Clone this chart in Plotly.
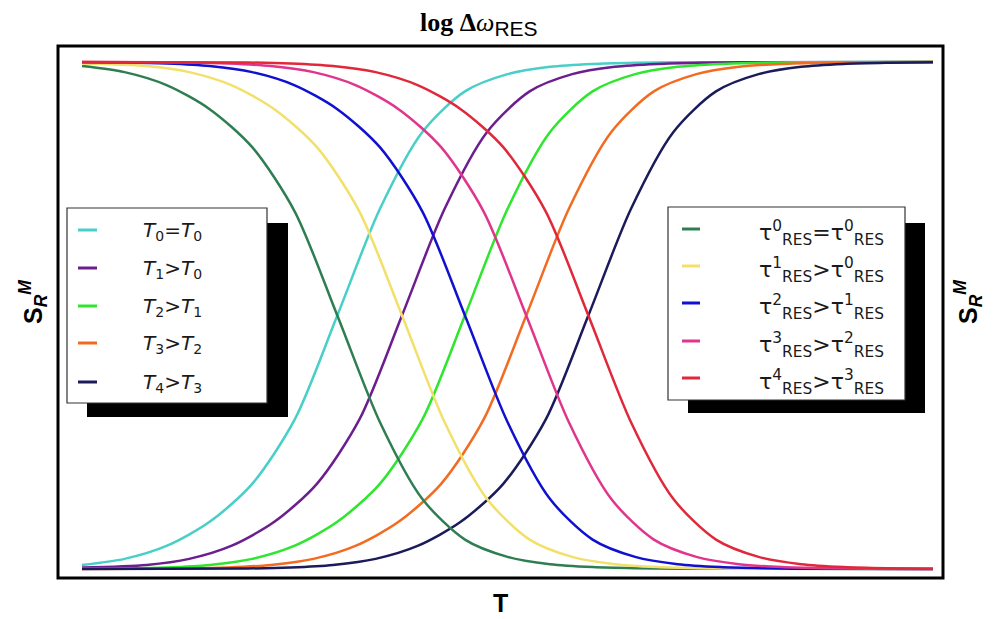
import plotly.graph_objects as go

# ---- data: S_R^M against T for the two families of curves ----
# rising curves (T family)
t_names = ["<i>T</i><sub>0</sub>=<i>T</i><sub>0</sub>",
           "<i>T</i><sub>1</sub>><i>T</i><sub>0</sub>",
           "<i>T</i><sub>2</sub>><i>T</i><sub>1</sub>",
           "<i>T</i><sub>3</sub>><i>T</i><sub>2</sub>",
           "<i>T</i><sub>4</sub>><i>T</i><sub>3</sub>"]
t_colors = ["#48CFC8", "#6B1F8F", "#2EE62E", "#F26B21", "#1B1B5C"]

cyan_x = [0, 0.5, 1.0, 1.5, 2.0, 2.5, 3.0, 3.5, 4.0, 4.5, 5.0, 5.5, 6.0, 6.5, 7.0, 10]
cyan_y = [0.008, 0.020, 0.046, 0.093, 0.168, 0.295, 0.5, 0.71, 0.862, 0.942, 0.976,
          0.9905, 0.9963, 0.9986, 0.9995, 1.0]
purple_x = [0, 0.76, 1.26, 1.76, 2.26, 2.76, 3.26, 3.76, 4.26, 4.76, 5.26, 5.76, 6.26,
            6.76, 7.26, 7.76, 10]
purple_y = [0.003, 0.008, 0.020, 0.046, 0.093, 0.168, 0.295, 0.5, 0.71, 0.862, 0.942,
            0.976, 0.9905, 0.9963, 0.9986, 0.9995, 1.0]
green_x = [0, 0.5, 1.0, 1.5, 2.0, 2.5, 3.0, 3.5, 4.0, 4.5, 5.0, 5.5, 6.0, 6.5, 7.0,
           7.5, 8.0, 8.5, 10]
green_y = [0.0005, 0.001, 0.003, 0.008, 0.020, 0.046, 0.093, 0.168, 0.295, 0.5, 0.71,
           0.862, 0.942, 0.976, 0.9905, 0.9963, 0.9986, 0.9995, 1.0]
orange_x = [0, 1.22, 1.72, 2.22, 2.72, 3.22, 3.72, 4.22, 4.72, 5.22, 5.72, 6.22, 6.72,
            7.22, 7.72, 8.22, 8.72, 9.22, 10]
orange_y = [0.0, 0.001, 0.003, 0.008, 0.020, 0.046, 0.093, 0.168, 0.295, 0.5, 0.71,
            0.862, 0.942, 0.976, 0.9905, 0.9963, 0.9986, 0.9995, 1.0]
navy_x = [0, 1.95, 2.45, 2.95, 3.45, 3.95, 4.45, 4.95, 5.45, 5.95, 6.45, 6.95, 7.45,
          7.95, 8.45, 8.95, 9.45, 10]
navy_y = [0.0, 0.001, 0.003, 0.008, 0.020, 0.046, 0.093, 0.168, 0.295, 0.5, 0.71,
          0.862, 0.942, 0.976, 0.9905, 0.9963, 0.9986, 0.9995]

# falling curves (tau_RES family)
tau_names = ["τ<sup>0</sup><sub>RES</sub>=τ<sup>0</sup><sub>RES</sub>",
             "τ<sup>1</sup><sub>RES</sub>>τ<sup>0</sup><sub>RES</sub>",
             "τ<sup>2</sup><sub>RES</sub>>τ<sup>1</sup><sub>RES</sub>",
             "τ<sup>3</sup><sub>RES</sub>>τ<sup>2</sup><sub>RES</sub>",
             "τ<sup>4</sup><sub>RES</sub>>τ<sup>3</sup><sub>RES</sub>"]
tau_colors = ["#2F7E52", "#F2E06A", "#1010D0", "#E0358C", "#E0283A"]

dkgreen_x = [0, 0.5, 1.0, 1.5, 2.0, 2.5, 3.0, 3.5, 4.0, 4.5, 5.0, 5.5, 6.0, 6.5, 7.0, 10]
dkgreen_y = [0.992, 0.980, 0.954, 0.907, 0.832, 0.705, 0.5, 0.29, 0.138, 0.058, 0.024,
             0.0095, 0.0037, 0.0014, 0.0005, 0.0]
yellow_x = [0, 0.76, 1.26, 1.76, 2.26, 2.76, 3.26, 3.76, 4.26, 4.76, 5.26, 5.76, 6.26,
            6.76, 7.26, 7.76, 10]
yellow_y = [0.997, 0.992, 0.980, 0.954, 0.907, 0.832, 0.705, 0.5, 0.29, 0.138, 0.058,
            0.024, 0.0095, 0.0037, 0.0014, 0.0005, 0.0]
blue_x = [0, 0.5, 1.0, 1.5, 2.0, 2.5, 3.0, 3.5, 4.0, 4.5, 5.0, 5.5, 6.0, 6.5, 7.0,
          7.5, 8.0, 8.5, 10]
blue_y = [0.9995, 0.999, 0.997, 0.992, 0.980, 0.954, 0.907, 0.832, 0.705, 0.5, 0.29,
          0.138, 0.058, 0.024, 0.0095, 0.0037, 0.0014, 0.0005, 0.0]
pink_x = [0, 1.22, 1.72, 2.22, 2.72, 3.22, 3.72, 4.22, 4.72, 5.22, 5.72, 6.22, 6.72,
          7.22, 7.72, 8.22, 8.72, 9.22, 10]
pink_y = [1.0, 0.999, 0.997, 0.992, 0.980, 0.954, 0.907, 0.832, 0.705, 0.5, 0.29,
          0.138, 0.058, 0.024, 0.0095, 0.0037, 0.0014, 0.0005, 0.0]
red_x = [0, 1.95, 2.45, 2.95, 3.45, 3.95, 4.45, 4.95, 5.45, 5.95, 6.45, 6.95, 7.45,
         7.95, 8.45, 8.95, 9.45, 10]
red_y = [1.0, 0.999, 0.997, 0.992, 0.980, 0.954, 0.907, 0.832, 0.705, 0.5, 0.29,
         0.138, 0.058, 0.024, 0.0095, 0.0037, 0.0014, 0.0005]

t_series = [(cyan_x, cyan_y), (purple_x, purple_y), (green_x, green_y),
            (orange_x, orange_y), (navy_x, navy_y)]
tau_series = [(dkgreen_x, dkgreen_y), (yellow_x, yellow_y), (blue_x, blue_y),
              (pink_x, pink_y), (red_x, red_y)]

# ---- figure geometry (pixels) ----
W, H = 996, 619
PL, PR, PT, PB = 58, 943, 46, 578


def fx(x):
    return (x - PL) / (PR - PL)


def fy(y):
    return (PB - y) / (PB - PT)


fig = go.Figure()
for (xs, ys), nm, col in zip(t_series, t_names, t_colors):
    fig.add_trace(go.Scatter(x=xs, y=ys, name=nm, mode="lines",
                             line=dict(color=col, width=2.5, shape="spline", smoothing=0.8),
                             showlegend=False, hoverinfo="skip"))
for (xs, ys), nm, col in zip(tau_series, tau_names, tau_colors):
    fig.add_trace(go.Scatter(x=xs, y=ys, name=nm, mode="lines",
                             line=dict(color=col, width=2.5, shape="spline", smoothing=0.8),
                             showlegend=False, hoverinfo="skip"))

shapes = []
annotations = []

# frame
shapes.append(dict(type="rect", xref="paper", yref="paper", x0=0, x1=1, y0=0, y1=1,
                   line=dict(color="black", width=3), layer="above"))


def legend_box(box, shadow, sample_x, rows, text_x, names, colors, size, dy):
    shapes.append(dict(type="rect", xref="paper", yref="paper",
                       x0=fx(shadow[0]), x1=fx(shadow[2]), y0=fy(shadow[3]), y1=fy(shadow[1]),
                       fillcolor="black", line=dict(width=0), layer="above"))
    shapes.append(dict(type="rect", xref="paper", yref="paper",
                       x0=fx(box[0]), x1=fx(box[2]), y0=fy(box[3]), y1=fy(box[1]),
                       fillcolor="white", line=dict(color="#333333", width=1.2), layer="above"))
    for yy, nm, col in zip(rows, names, colors):
        shapes.append(dict(type="line", xref="paper", yref="paper",
                           x0=fx(sample_x[0]), x1=fx(sample_x[1]), y0=fy(yy), y1=fy(yy),
                           line=dict(color=col, width=3), layer="above"))
        annotations.append(dict(xref="paper", yref="paper", x=fx(text_x), y=fy(yy + dy),
                                xanchor="left", yanchor="middle", showarrow=False, text=nm,
                                font=dict(family="DejaVu Sans", size=size, color="#1a1a1a")))


legend_box((67, 208, 267, 403), (87, 223, 288, 417), (78, 97),
           [230, 268, 306, 343, 382], 141, t_names, t_colors, 20, 1)
legend_box((668, 207, 905, 400), (688, 223, 925, 413), (682, 700),
           [229, 266, 303, 341, 378], 757, tau_names, tau_colors, 22, 4)

# title and axis labels
annotations.append(dict(xref="paper", yref="paper", x=fx(479), y=fy(24),
                        xanchor="center", yanchor="middle", showarrow=False,
                        text="<b>log Δ</b><i>ω</i><sub><span style='font-family:Liberation Sans;font-size:21px'>RES</span></sub>",
                        font=dict(family="Liberation Serif, Times New Roman", size=26, color="black")))
annotations.append(dict(xref="paper", yref="paper", x=fx(500), y=fy(603),
                        xanchor="center", yanchor="middle", showarrow=False, text="<b>T</b>",
                        font=dict(family="Liberation Sans, Arial", size=25, color="black")))
for lx in (33, 968):
    annotations.append(dict(xref="paper", yref="paper", x=fx(lx), y=fy(302),
                            xanchor="center", yanchor="middle", showarrow=False, textangle=-90,
                            text="<b>S</b><sub><b><i>R</i></b></sub><sup><b><i>M</i></b></sup>",
                            font=dict(family="Liberation Sans, Arial", size=25, color="black")))

x0_px, x10_px = 82, 933
y0_px, y1_px = 569, 62
xs_per_px = 10 / (x10_px - x0_px)
ys_per_px = 1 / (y0_px - y1_px)

fig.update_layout(
    width=W, height=H,
    margin=dict(l=PL, r=W - PR, t=PT, b=H - PB),
    paper_bgcolor="white", plot_bgcolor="white",
    xaxis=dict(range=[(PL - x0_px) * xs_per_px, 10 + (PR - x10_px) * xs_per_px],
               showgrid=False, zeroline=False, showticklabels=False, ticks="", showline=False),
    yaxis=dict(range=[(y0_px - PB) * ys_per_px, 1 + (y1_px - PT) * ys_per_px],
               showgrid=False, zeroline=False, showticklabels=False, ticks="", showline=False),
    shapes=shapes, annotations=annotations, showlegend=False,
)

fig.write_html("out.html")
